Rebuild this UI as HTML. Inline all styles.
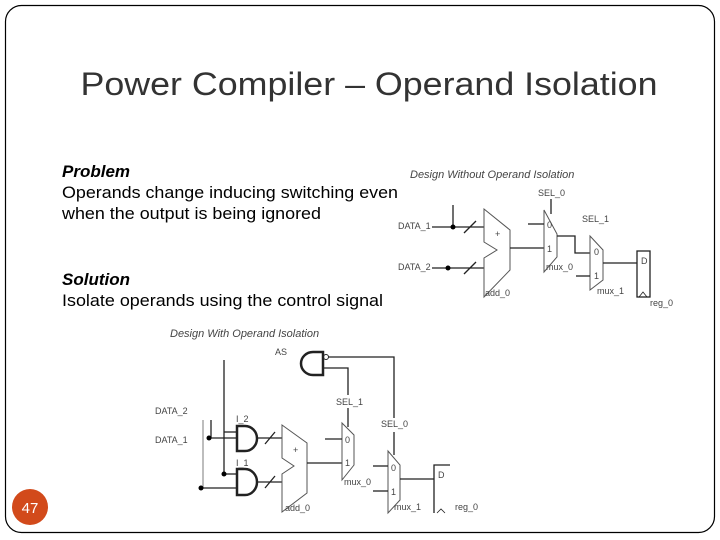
<!DOCTYPE html>
<html><head><meta charset="utf-8"><style>
html,body{margin:0;padding:0;background:#fff;width:720px;height:540px;overflow:hidden}
svg{display:block}
</style></head><body>
<svg width="720" height="540" viewBox="0 0 720 540" xmlns="http://www.w3.org/2000/svg" font-family="Liberation Sans, sans-serif">
<rect x="5.5" y="5.5" width="709" height="527" rx="16" fill="#fff" stroke="#000" stroke-width="1.2"/>
<text x="369" y="95" font-size="32" text-anchor="middle" fill="#333" textLength="577" lengthAdjust="spacingAndGlyphs">Power Compiler – Operand Isolation</text>
<g font-size="17" fill="#000">
<text x="62" y="177" font-weight="bold" font-style="italic">Problem</text>
<text x="62" y="198" textLength="336" lengthAdjust="spacingAndGlyphs">Operands change inducing switching even</text>
<text x="62" y="219" textLength="259" lengthAdjust="spacingAndGlyphs">when the output is being ignored</text>
<text x="62" y="285" font-weight="bold" font-style="italic">Solution</text>
<text x="62" y="306" textLength="321" lengthAdjust="spacingAndGlyphs">Isolate operands using the control signal</text>
</g>
<circle cx="30" cy="507" r="18" fill="#d24a1b"/>
<text x="30" y="513" font-size="15" fill="#fff" text-anchor="middle">47</text>

<!-- Top diagram -->
<g stroke="#222" stroke-width="1.3" fill="none">
<line x1="432" y1="227" x2="484" y2="227"/><line x1="453" y1="205" x2="453" y2="227"/>
<line x1="464" y1="233" x2="476" y2="221"/>
<line x1="432" y1="268" x2="484" y2="268"/>
<line x1="464" y1="274" x2="476" y2="262"/>
<polygon points="484,209 510,230 510,270 484,297 484,258 497,250 484,242" stroke="#555" stroke-width="1"/>
<line x1="510" y1="248" x2="544" y2="248"/>
<polygon points="544,210 557,234 557,257 544,272" stroke="#555" stroke-width="1"/>
<line x1="528" y1="224" x2="544" y2="224"/>
<line x1="551" y1="199" x2="551" y2="214"/>
<polyline points="557,236 575,236 575,253 590,253"/>
<polygon points="590,236 603,250 603,280 590,290" stroke="#555" stroke-width="1"/>
<line x1="576" y1="276" x2="590" y2="276"/>
<line x1="603" y1="263" x2="637" y2="263"/>
<rect x="637" y="251" width="13" height="46"/>
<polyline points="639,297 643,292 647,297" stroke-width="0.8"/>
</g>
<circle cx="453" cy="227" r="2.5" fill="#000"/><circle cx="448" cy="268" r="2.5" fill="#000"/>
<g font-size="9" fill="#444">
<text x="410" y="178" font-style="italic" font-size="11">Design Without Operand Isolation</text>
<text x="398" y="229">DATA_1</text><text x="398" y="270">DATA_2</text>
<text x="495" y="237">+</text><text x="485" y="296">add_0</text>
<text x="538" y="196">SEL_0</text><text x="547" y="228">0</text><text x="547" y="252">1</text><text x="546" y="270">mux_0</text>
<text x="582" y="222">SEL_1</text><text x="594" y="255">0</text><text x="594" y="279">1</text><text x="597" y="294">mux_1</text>
<text x="641" y="264">D</text><text x="650" y="306">reg_0</text>
</g>

<!-- Bottom diagram -->
<g stroke="#222" stroke-width="1.3" fill="none">
<path d="M323,352 L313,352 A12,11.5 0 0 0 313,375 L323,375 Z" stroke-width="2.5"/>
<circle cx="326" cy="357" r="2.5" stroke-width="1"/>
<polyline points="328,357 394,357 394,418"/><line x1="394" y1="432" x2="394" y2="455"/>
<polyline points="323,368 348,368 348,395"/><line x1="348" y1="408" x2="348" y2="427"/>
<line x1="224" y1="360" x2="224" y2="474"/>
<line x1="211" y1="420" x2="211" y2="438"/>
<line x1="203" y1="420" x2="203" y2="488" stroke="#999"/>
<path d="M237,426 L245,426 A12,12.5 0 0 1 245,451 L237,451 Z" stroke-width="2.5"/>
<path d="M237,469 L245,469 A12,13 0 0 1 245,495 L237,495 Z" stroke-width="2.5"/>
<line x1="224" y1="432" x2="237" y2="432"/><line x1="209" y1="438" x2="237" y2="438"/>
<line x1="224" y1="474" x2="237" y2="474"/><line x1="201" y1="488" x2="237" y2="488"/>
<line x1="257" y1="438" x2="282" y2="438"/><line x1="265" y1="444" x2="275" y2="432"/>
<line x1="257" y1="482" x2="282" y2="482"/><line x1="265" y1="488" x2="275" y2="476"/>
<polygon points="282,425 307,443 307,493 282,512 282,474 294,466 282,458" stroke="#555" stroke-width="1"/>
<line x1="307" y1="463" x2="342" y2="463"/>
<polygon points="342,423 354,435 354,465 342,480" stroke="#555" stroke-width="1"/>
<line x1="325" y1="439" x2="342" y2="439"/>
<polygon points="388,451 400,465 400,500 388,513" stroke="#555" stroke-width="1"/>
<line x1="373" y1="466" x2="388" y2="466"/><line x1="373" y1="491" x2="388" y2="491"/>
<line x1="400" y1="479" x2="434" y2="479"/>
<polyline points="434,513 434,465 450,465"/>
<polyline points="437,513 441,509 445,513" stroke-width="0.8"/>
</g>
<circle cx="224" cy="474" r="2.5" fill="#000"/><circle cx="209" cy="438" r="2.5" fill="#000"/><circle cx="201" cy="488" r="2.5" fill="#000"/>
<g font-size="9" fill="#444">
<text x="170" y="337" font-style="italic" font-size="11">Design With Operand Isolation</text>
<text x="275" y="355">AS</text>
<text x="155" y="414">DATA_2</text><text x="155" y="443">DATA_1</text>
<text x="236" y="422">I_2</text><text x="236" y="466">I_1</text>
<text x="293" y="453">+</text><text x="285" y="511">add_0</text>
<text x="336" y="405">SEL_1</text><text x="381" y="427">SEL_0</text>
<text x="345" y="443">0</text><text x="345" y="466">1</text><text x="344" y="485">mux_0</text>
<text x="391" y="471">0</text><text x="391" y="495">1</text><text x="394" y="510">mux_1</text>
<text x="438" y="478">D</text><text x="455" y="510">reg_0</text>
</g>
</svg>
</body></html>
